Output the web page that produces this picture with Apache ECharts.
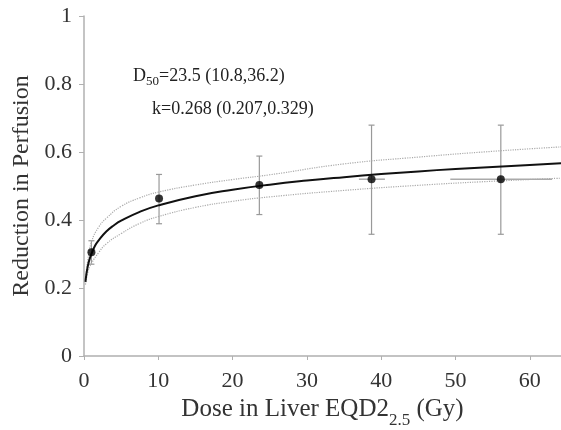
<!DOCTYPE html>
<html><head><meta charset="utf-8">
<script src="https://cdn.jsdelivr.net/npm/echarts@6/dist/echarts.min.js"></script>
<style>html,body{margin:0;padding:0;background:#fff}#c{width:561px;height:430px}</style>
</head><body><div id="c"></div>
<script>
// Fitted curve
var curveX = [0.2,0.3,0.5,0.75,1,1.5,2,3,4,5,7.5,10,15,20,25,30,35,40,45,50,55,60,64.2];
var curveY = [0.218,0.237,0.263,0.285,0.300,0.325,0.341,0.366,0.384,0.398,0.424,0.443,0.470,0.489,0.504,0.516,0.526,0.535,0.543,0.550,0.556,0.562,0.567];
// Confidence band
var bandX = [0.2,0.5,1,2,3,5,7.5,10,15,20,25,35,45,55,64.2];
var bandUpper = [0.225,0.28,0.335,0.38,0.405,0.44,0.465,0.482,0.503,0.519,0.533,0.565,0.585,0.602,0.615];
var bandLower = [0.21,0.245,0.272,0.305,0.33,0.36,0.39,0.41,0.437,0.455,0.468,0.487,0.502,0.514,0.523];
// Data points
var ptX = [1.0,10.1,23.6,38.7,56.1];
var ptY = [0.305,0.463,0.503,0.52,0.52];
var errYLow = [0.27,0.389,0.416,0.358,0.358];
var errYHigh = [0.339,0.534,0.588,0.679,0.679];
var errXLow = [null,null,null,37.0,49.3];
var errXHigh = [null,null,null,40.5,63.0];
var xTicks = [0,10,20,30,40,50,60];
var yTicks = [0,0.2,0.4,0.6,0.8,1];

function pairs(xs, ys){ return xs.map(function(x,i){return [x, ys[i]];}); }
var errData = ptX.map(function(x,i){ return [x, errYLow[i], errYHigh[i]]; });

var font = '"Liberation Serif","Times New Roman",serif';
var chart = echarts.init(document.getElementById('c'));
chart.setOption({
  animation:false,
  backgroundColor:'#fff',
  grid:{left:84, right:0, top:16, bottom:74, containLabel:false, outerBoundsMode:'none'},
  xAxis:{
    type:'value', min:0, max:64.2, interval:10,
    axisLine:{lineStyle:{color:'#b0b0b0', width:1.5}},
    axisTick:{show:true, length:4, lineStyle:{color:'#b0b0b0'}},
    splitLine:{show:false},
    axisLabel:{color:'#333', fontFamily:font, fontSize:22, margin:14, showMaxLabel:false,
      formatter:function(v){ return xTicks.indexOf(v)>=0 ? String(v) : ''; }},
    name:'{m|Dose in Liver EQD2}{s|2.5}{m| (Gy)}',
    nameLocation:'middle', nameGap:32,
    nameTextStyle:{color:'#333', fontFamily:font,
      rich:{m:{fontSize:25, fontFamily:font, color:'#333'},
            s:{fontSize:17, fontFamily:font, color:'#333', padding:[22,0,0,0]}}}
  },
  yAxis:{
    type:'value', min:0, max:1, interval:0.2,
    axisLine:{show:true, lineStyle:{color:'#b0b0b0', width:1.5}},
    axisTick:{show:true, length:5, lineStyle:{color:'#b0b0b0'}},
    splitLine:{show:false},
    axisLabel:{color:'#333', fontFamily:font, fontSize:22, margin:12,
      formatter:function(v){ var r=Math.round(v*10)/10; return yTicks.indexOf(r)>=0 ? String(r) : ''; }},
    name:'Reduction in Perfusion', nameLocation:'middle', nameGap:47,
    nameTextStyle:{color:'#333', fontFamily:font, fontSize:24}
  },
  graphic:[
    {type:'text', left:133, top:67, style:{
      text:'{m|D}{s|50}{m|=23.5 (10.8,36.2)}', fontFamily:font, fill:'#222',
      rich:{m:{fontSize:18, fontFamily:font}, s:{fontSize:13, fontFamily:font, padding:[12,0,0,0]}}}},
    {type:'text', left:152, top:100, style:{
      text:'k=0.268 (0.207,0.329)', fontFamily:font, fontSize:18, fill:'#222'}}
  ],
  series:[
    {type:'line', data:pairs(bandX,bandUpper), smooth:true, symbol:'none',
     lineStyle:{color:'#aaa', width:1.2, type:'dotted'}},
    {type:'line', data:pairs(bandX,bandLower), smooth:true, symbol:'none',
     lineStyle:{color:'#aaa', width:1.2, type:'dotted'}},
    {type:'custom', data:errData, renderItem:function(params, api){
      var i=params.dataIndex;
      var x=api.value(0), lo=api.value(1), hi=api.value(2);
      var pLo=api.coord([x,lo]), pHi=api.coord([x,hi]);
      var st={stroke:'#999', lineWidth:1.2};
      var cap=3;
      var kids=[
        {type:'line', shape:{x1:pLo[0],y1:pLo[1],x2:pHi[0],y2:pHi[1]}, style:st},
        {type:'line', shape:{x1:pLo[0]-cap,y1:pLo[1],x2:pLo[0]+cap,y2:pLo[1]}, style:st},
        {type:'line', shape:{x1:pHi[0]-cap,y1:pHi[1],x2:pHi[0]+cap,y2:pHi[1]}, style:st}
      ];
      if (errXLow[i]!=null && errXHigh[i]!=null) {
        var a=api.coord([errXLow[i], ptY[i]]), b=api.coord([errXHigh[i], ptY[i]]);
        kids.push({type:'line', shape:{x1:a[0],y1:a[1],x2:b[0],y2:b[1]}, style:{stroke:'#aaa', lineWidth:1.5}});
      }
      return {type:'group', children:kids};
    }, z:3},
    {type:'line', data:pairs(curveX,curveY), smooth:true, symbol:'none',
     lineStyle:{color:'#111', width:2}, z:4},
    {type:'scatter', data:pairs(ptX,ptY), symbol:'circle', symbolSize:8,
     itemStyle:{color:'#000'}, z:5}
  ]
});
</script></body></html>
